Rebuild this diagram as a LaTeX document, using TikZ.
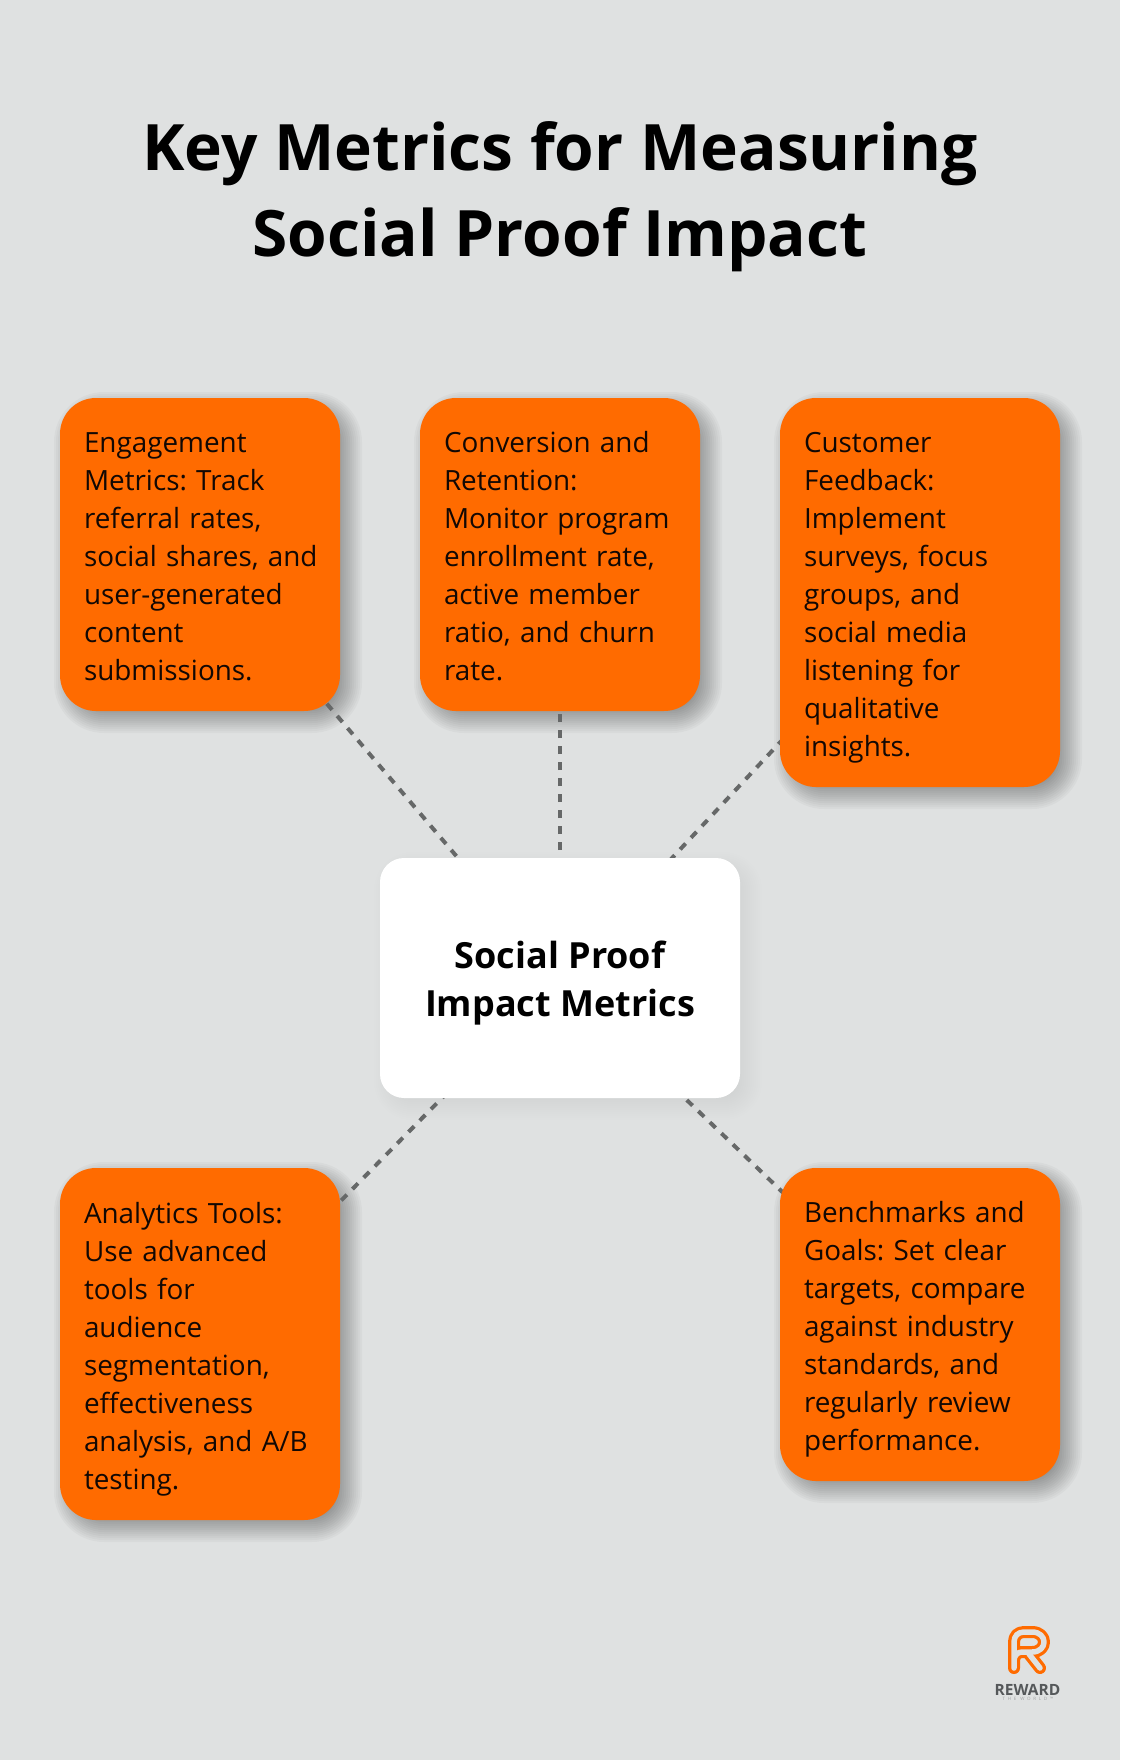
\documentclass[tikz,border=0pt]{standalone}
\usepackage{fontspec}
\setmainfont{Open Sans}
\newfontfamily\tagfont[LetterSpace=60]{Open Sans}
\frenchspacing
\definecolor{pagebg}{HTML}{DFE1E1}
\definecolor{boxorange}{HTML}{FF6B00}
\definecolor{inktext}{HTML}{120804}
\definecolor{linkgrey}{HTML}{666868}
\definecolor{logogrey}{HTML}{55585A}
\pgfdeclarelayer{pagelayer}
\pgfdeclarelayer{linklayer}
\pgfdeclarelayer{shadowlayer}
\pgfsetlayers{pagelayer,shadowlayer,linklayer,main}
\newcommand{\softshadow}[6]{% x1 y1 x2 y2 radius opacity
  \foreach \i in {-14,-12,...,14}{
    \pgfmathsetmacro{\rr}{max(#5+\i,2)}
    \fill[black,opacity=#6,rounded corners=\rr pt]
      (#1+8-\i,#2+8-\i) rectangle (#3+8+\i,#4+8+\i);
  }}
\newcommand{\orangetext}[1]{\leftskip=4pt\relax\rule{0pt}{35.6pt}#1\strut\par}
\tikzset{
  x=1pt,y=-1pt,
  orangebox/.style={fill=boxorange,rounded corners=36pt,inner sep=0pt,minimum width=280pt,
    text width=240pt,align=left,text=inktext,font=\fontsize{27.85}{38}\selectfont},
  centrebox/.style={fill=white,rounded corners=24pt,inner sep=0pt,minimum width=360pt,minimum height=240pt,
    align=center,text=black,font=\fontsize{36}{48}\bfseries\selectfont},
  titletext/.style={align=center,text=black,font=\fontsize{64}{86}\bfseries\selectfont},
  dashedlink/.style={draw=linkgrey,line width=4pt,dash pattern=on 8pt off 8pt},
  logostroke/.style={line width=12pt,draw=boxorange,line cap=round,line join=round},
  logoinner/.style={line width=5.5pt,draw=pagebg,line cap=round,line join=round},
}
\begin{document}
\begin{tikzpicture}
\useasboundingbox (0,0) rectangle (1120,1760);
\begin{pgfonlayer}{pagelayer}
  \fill[pagebg] (0,0) rectangle (1120,1760);
\end{pgfonlayer}
\begin{pgfonlayer}{shadowlayer}
  \softshadow{60}{398}{340}{711}{36}{0.026}
  \softshadow{420}{398}{700}{711}{36}{0.026}
  \softshadow{780}{398}{1060}{787}{36}{0.026}
  \softshadow{60}{1168}{340}{1520}{36}{0.026}
  \softshadow{780}{1168}{1060}{1481}{36}{0.026}
  \softshadow{380}{858}{740}{1098}{24}{0.003}
\end{pgfonlayer}
\node[titletext] (title) at (560,197) {Key Metrics for Measuring\\Social Proof Impact};
\node[orangebox,minimum height=313pt] (eng) at (200,554.5) {\orangetext{Engagement\\Metrics: Track\\referral rates,\\social shares, and\\user-generated\\content\\submissions.}};
\node[orangebox,minimum height=313pt] (conv) at (560,554.5) {\orangetext{Conversion and\\Retention:\\Monitor program\\enrollment rate,\\active member\\ratio, and churn\\rate.}};
\node[orangebox,minimum height=389pt] (cust) at (920,592.5) {\orangetext{Customer\\Feedback:\\Implement\\surveys, focus\\groups, and\\social media\\listening for\\qualitative\\insights.}};
\node[orangebox,minimum height=352pt] (ana) at (200,1344) {\orangetext{Analytics Tools:\\Use advanced\\tools for\\audience\\segmentation,\\effectiveness\\analysis, and A/B\\testing.}};
\node[orangebox,minimum height=313pt] (bench) at (920,1324.5) {\orangetext{Benchmarks and\\Goals: Set clear\\targets, compare\\against industry\\standards, and\\regularly review\\performance.}};
\node[centrebox] (hub) at (560,978) {\rule{0pt}{38pt}Social Proof\\Impact Metrics};
\begin{pgfonlayer}{linklayer}
  \draw[dashedlink] (hub.center) -- (eng.center);
  \draw[dashedlink] (hub.center) -- (conv.center);
  \draw[dashedlink] (hub.center) -- (cust.center);
  \draw[dashedlink] (hub.center) -- (ana.center);
  \draw[dashedlink] (hub.center) -- (bench.center);
\end{pgfonlayer}
% logo
\draw[logostroke] (1014,1668) -- (1014,1642) .. controls (1014,1636) and (1018,1632) .. (1024,1632) -- (1032,1632) .. controls (1048,1632) and (1048,1652) .. (1032,1652) -- (1022,1652) .. controls (1017,1652) and (1014,1656) .. (1014,1661);
\draw[logostroke] (1029,1654) -- (1040,1668);
\draw[logoinner] (1014,1668) -- (1014,1642) .. controls (1014,1636) and (1018,1632) .. (1024,1632) -- (1032,1632) .. controls (1048,1632) and (1048,1652) .. (1032,1652) -- (1022,1652) .. controls (1017,1652) and (1014,1656) .. (1014,1661);
\draw[logoinner] (1029,1654) -- (1040,1668);
\node[inner sep=0pt,text=logogrey,font=\fontsize{15.5}{15.5}\bfseries\selectfont] (brand) at (1027.5,1689.5) {REWARD};
\node[inner sep=0pt,text=logogrey!55,font=\tagfont\fontsize{4.5}{4.5}\selectfont] (tag) at (1028,1698.5) {THE WORLD™};
\end{tikzpicture}
\end{document}
